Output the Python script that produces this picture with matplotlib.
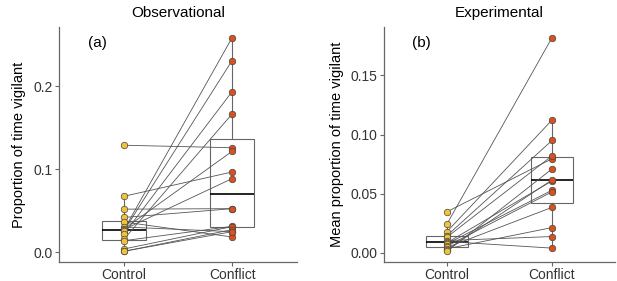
import numpy as np
import matplotlib
matplotlib.use("Agg")
import matplotlib.pyplot as plt

plt.rcParams['font.family'] = ['Liberation Sans', 'DejaVu Sans']

groups = ["Control", "Conflict"]

# (a) Observational, one pair per individual
obs_control = [0.129, 0.0675, 0.052, 0.042, 0.0365, 0.0305, 0.028, 0.0275,
               0.027, 0.026, 0.022, 0.0157, 0.014, 0.004, 0.0012, 0.0012]
obs_conflict = [0.126, 0.0968, 0.0526, 0.0526, 0.0185, 0.0249, 0.1217, 0.0888,
                0.2586, 0.231, 0.1936, 0.1667, 0.0313, 0.031, 0.0273, 0.0249]

# (b) Experimental
exp_control = [0.0347, 0.0244, 0.0179, 0.0145, 0.0132, 0.0103, 0.0095,
               0.0085, 0.0076, 0.0056, 0.0045, 0.0034, 0.0025, 0.0012]
exp_conflict = [0.0795, 0.182, 0.1123, 0.095, 0.082, 0.0137, 0.0039,
                0.0608, 0.0529, 0.0515, 0.0384, 0.0213, 0.0616, 0.0709]

c_ctrl = "#f2c23a"
c_conf = "#d9511d"

fig = plt.figure(figsize=(6.17, 2.81), dpi=100)
ax1 = fig.add_axes([59/617, 19/281, 238/617, 235/281])
ax2 = fig.add_axes([384/617, 19/281, 231/617, 235/281])


def panel(ax, ctrl, conf, title, ylabel, tag, yticks, fmt):
    ctrl = np.array(ctrl)
    conf = np.array(conf)
    x = np.arange(1, 3)
    ax.boxplot([ctrl, conf], positions=x, widths=0.4, showfliers=False,
               patch_artist=True, zorder=1,
               boxprops=dict(facecolor="none", edgecolor="#666666", lw=0.8),
               whiskerprops=dict(color="#666666", lw=0.8),
               capprops=dict(lw=0),
               medianprops=dict(color="black", lw=1.2))
    for a, b in zip(ctrl, conf):
        ax.plot(x, [a, b], color="#555555", lw=0.6, zorder=2)
    ax.scatter(np.full(len(ctrl), 1), ctrl, s=22, color=c_ctrl,
               edgecolor="#444444", lw=0.5, zorder=3)
    ax.scatter(np.full(len(conf), 2), conf, s=22, color=c_conf,
               edgecolor="#444444", lw=0.5, zorder=3)
    lo = min(ctrl.min(), conf.min())
    hi = max(ctrl.max(), conf.max())
    pad = 0.05 * (hi - lo)
    ax.set_ylim(lo - pad, hi + pad)
    ax.set_xlim(0.4, 2.6)
    ax.set_xticks(x)
    ax.set_xticklabels(groups)
    ax.set_yticks(yticks)
    ax.set_yticklabels([fmt.format(v) for v in yticks])
    for s in ["top", "right"]:
        ax.spines[s].set_visible(False)
    for s in ["left", "bottom"]:
        ax.spines[s].set_color("#666666")
        ax.spines[s].set_linewidth(0.9)
    ax.tick_params(colors="#666666", labelcolor="#333333", labelsize=10,
                   length=3, width=0.8, pad=1.5)
    ax.set_title(title, fontsize=11, pad=7)
    ax.set_ylabel(ylabel, fontsize=10.5, labelpad=5)
    ax.text(0.12, 0.93, tag, transform=ax.transAxes, fontsize=11,
            ha="left", va="center")


panel(ax1, obs_control, obs_conflict, "Observational",
      "Proportion of time vigilant", "(a)", [0.0, 0.1, 0.2], "{:.1f}")
panel(ax2, exp_control, exp_conflict, "Experimental",
      "Mean proportion of time vigilant", "(b)",
      [0.0, 0.05, 0.10, 0.15], "{:.2f}")

fig.savefig("out.png", dpi=100)
